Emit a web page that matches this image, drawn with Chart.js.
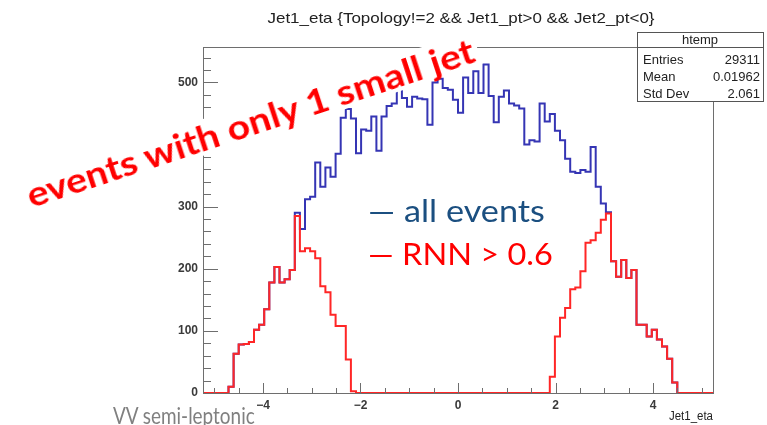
<!DOCTYPE html>
<html>
<head>
<meta charset="utf-8">
<script src="https://cdn.jsdelivr.net/npm/chart.js@4.4.1/dist/chart.umd.min.js"></script>
<style>
html, body { margin: 0; padding: 0; background: #fff; overflow: hidden; }
#wrap { position: relative; width: 767px; height: 425px; overflow: hidden; }
#chart1 { position: absolute; left: 0; top: 0; filter: blur(0.45px); }
.note { position: absolute; white-space: nowrap; line-height: 1; font-family: Lato, "Open Sans", sans-serif; --k: 1; }
#tag { left: 250px; top: 122px; color: #ff0000; font-weight: 700; font-size: 35px; background: #fff; padding: 0 4px;
       transform: translate(-50%, -50%) rotate(-18.2deg) scaleX(var(--k)); }
#lgAll { left: 368px; top: 195px; color: #1b4f80; font-size: 30px; transform-origin: left center; transform: scaleX(var(--k)); }
#lgRnn { left: 368px; top: 238px; color: #ff0000; font-size: 30px; transform-origin: left center; transform: scaleX(var(--k)); }
#sub { left: 113px; top: 403px; color: #808080; font-size: 24px; transform-origin: left center; transform: scaleX(var(--k)); }
</style>
</head>
<body>
<div id="wrap">
  <canvas id="chart1" width="767" height="425"></canvas>
  <div class="note" id="tag">events with only 1 small jet</div>
  <div class="note" id="lgAll">— all events</div>
  <div class="note" id="lgRnn">— RNN &gt; 0.6</div>
  <div class="note" id="sub">VV semi-leptonic</div>
</div>
<script>
// binning of htemp (100 bins)
const xMin = -5.23;
const xMax = 5.23;
const yMax = 557;
const xTickValues = [-4, -2, 0, 2, 4];
const yTickValues = [0, 100, 200, 300, 400, 500];

// bin contents, all events
const allEvents = [
    0, 0, 0, 0, 0, 0,
    10, 63, 78, 79, 82, 102, 110, 135, 178, 203, 178, 183, 198,
    290, 264, 312, 316, 371, 332, 363, 348, 385, 443,
    457, 442, 386, 424, 422, 445, 390, 445, 462, 466,
    504, 475, 461, 477, 474, 473, 432, 500, 506, 491,
    488, 472, 451, 508, 483, 518, 483, 529, 478, 436,
    477, 487, 466, 463, 458, 400, 407, 405, 466, 437,
    449, 422, 407, 377, 356, 354, 359, 356, 396, 332,
    305, 291,
    212, 187, 214, 185, 198, 110, 110, 91, 102, 86, 75, 55, 17,
    0, 0, 0, 0, 0, 0
];

// bin contents, events with RNN > 0.6
const rnnEvents = [
    0, 0, 0, 0, 0, 0,
    10, 63, 78, 79, 82, 102, 110, 135, 178, 203, 178, 183, 198,
    285, 228, 233, 228, 217, 172, 162, 126, 108, 108, 54, 3,
    0, 0, 0, 0, 0, 0, 0, 0, 0, 0, 0, 0, 0, 0, 0, 0, 0, 0, 0,
    0, 0, 0, 0, 0, 0, 0, 0, 0, 0, 0, 0, 0, 0, 0, 0, 0, 0, 0,
    26, 91, 121, 137, 167, 170, 196, 242, 246, 258, 279, 289,
    212, 187, 214, 185, 198, 110, 110, 91, 102, 86, 75, 55, 17,
    0, 0, 0, 0, 0, 0
];

const histTitle = 'Jet1_eta {Topology!=2 && Jet1_pt>0 && Jet2_pt<0}';
const statsName = 'htemp';
const statsLabels = ['Entries', 'Mean', 'Std Dev'];
const statsValues = ['29311', '0.01962', '2.061'];

// left bin edges + closing point, drawn with stepped lines
function histPoints(counts) {
    const w = (xMax - xMin) / counts.length;
    const pts = counts.map((c, i) => ({ x: xMin + i * w, y: c }));
    pts.push({ x: xMax, y: counts[counts.length - 1] });
    return pts;
}

const labelFont = '"Liberation Sans Narrow", "Liberation Sans", Arial, sans-serif';

function fitText(c, text, x, y, width, align) {
    const w = c.measureText(text).width;
    c.save();
    c.translate(x, y);
    c.scale(width / w, 1);
    c.textAlign = align;
    c.fillText(text, 0, 0);
    c.restore();
}

// ROOT style frame, inner ticks, title and stats box
const rootFrame = {
    id: 'rootFrame',
    afterDraw(chart) {
        const c = chart.ctx;
        const a = chart.chartArea;
        const xs = chart.scales.x;
        const ys = chart.scales.y;
        c.save();
        c.strokeStyle = '#6e6e6e';
        c.lineWidth = 1;
        c.strokeRect(Math.round(a.left) + 0.5, Math.round(a.top) + 0.5,
                     Math.round(a.right - a.left), Math.round(a.bottom - a.top));

        c.beginPath();
        for (let v = 0; v <= yMax; v += 20) {
            const py = Math.round(ys.getPixelForValue(v)) + 0.5;
            const len = v % 100 === 0 ? 15 : 8;
            c.moveTo(a.left, py);
            c.lineTo(a.left + len, py);
        }
        for (let v = -5; v <= 5; v += 0.5) {
            const px = Math.round(xs.getPixelForValue(v)) + 0.5;
            const len = v % 2 === 0 ? 10 : 5;
            c.moveTo(px, a.bottom);
            c.lineTo(px, a.bottom - len);
        }
        c.stroke();

        c.fillStyle = '#222';
        c.textBaseline = 'middle';
        c.font = '15px ' + labelFont;
        fitText(c, histTitle, 461, 19, 387, 'center');

        c.font = '12px ' + labelFont;
        fitText(c, 'Jet1_eta', 713, 417, 44, 'right');

        // stats box
        const bx = 637.5, by = 32.5, bw = 126, bh = 69;
        c.fillStyle = '#fff';
        c.fillRect(bx, by, bw, bh);
        c.strokeStyle = '#555';
        c.strokeRect(bx, by, bw, bh);
        c.beginPath();
        c.moveTo(bx, 47.5);
        c.lineTo(bx + bw, 47.5);
        c.stroke();
        c.fillStyle = '#222';
        c.font = '13px "Liberation Sans", Arial, sans-serif';
        c.textAlign = 'center';
        c.fillText(statsName, 700, 40);
        statsLabels.forEach((t, i) => {
            const py = 60 + i * 17;
            c.textAlign = 'left';
            c.fillText(t, 643, py);
            c.textAlign = 'right';
            c.fillText(statsValues[i], 760, py);
        });
        c.restore();
    }
};

const ctx = document.getElementById('chart1').getContext('2d');
const myChart = new Chart(ctx, {
    type: 'line',
    data: {
        datasets: [
            {
                label: 'RNN > 0.6',
                data: histPoints(rnnEvents),
                borderColor: '#ff2626',
                borderWidth: 2,
                stepped: 'after',
                pointRadius: 0,
                fill: false,
                order: 0
            },
            {
                label: 'all events',
                data: histPoints(allEvents),
                borderColor: '#3535b4',
                borderWidth: 2,
                stepped: 'after',
                pointRadius: 0,
                fill: false,
                order: 1
            }
        ]
    },
    options: {
        responsive: false,
        animation: false,
        layout: { padding: { top: 47, right: 54, left: 0, bottom: 0 } },
        plugins: {
            legend: { display: false },
            tooltip: { enabled: false },
            title: { display: false }
        },
        scales: {
            x: {
                type: 'linear',
                min: xMin,
                max: xMax,
                afterBuildTicks: s => { s.ticks = xTickValues.map(v => ({ value: v })); },
                afterFit: s => { s.height = 32; },
                grid: { display: false, drawTicks: false },
                border: { display: false },
                ticks: {
                    padding: 5,
                    color: '#3a3a3a',
                    maxRotation: 0,
                    autoSkip: false,
                    font: { family: labelFont, size: 12, weight: 'bold' },
                    callback: v => String(v).replace('-', '\u2212')
                }
            },
            y: {
                min: 0,
                max: yMax,
                afterBuildTicks: s => { s.ticks = yTickValues.map(v => ({ value: v })); },
                afterFit: s => { s.width = 203; },
                grid: { display: false, drawTicks: false },
                border: { display: false },
                ticks: {
                    padding: 5,
                    color: '#3a3a3a',
                    font: { family: labelFont, size: 12, weight: 'bold' }
                }
            }
        }
    },
    plugins: [rootFrame]
});

// squeeze the slide notes to their widths
function squeeze(id, width) {
    const el = document.getElementById(id);
    el.style.setProperty('--k', width / el.offsetWidth);
}
squeeze('tag', 478);
squeeze('lgAll', 177);
squeeze('lgRnn', 185);
squeeze('sub', 142);
</script>
</body>
</html>
